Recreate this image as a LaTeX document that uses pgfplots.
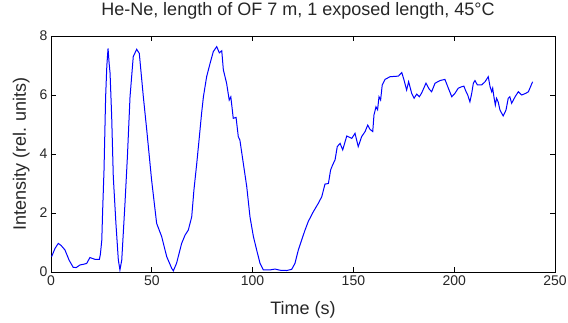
\documentclass[border=0pt]{standalone}
\usepackage{pgfplots}
\pgfplotsset{compat=1.18}
\usepackage{fontspec}
\setmainfont{Liberation Sans}
\begin{document}
\begin{tikzpicture}
\path[use as bounding box] (-51pt,-50pt) rectangle (517pt,272pt);
\begin{axis}[
  scale only axis, width=504pt, height=236pt,
  anchor=south west, at={(0pt,0pt)},
  xmin=0, xmax=250, ymin=0, ymax=8,
  xtick={0,50,...,250}, ytick={0,2,...,8},
  tick align=inside, major tick length=5pt,
  tick style={black, line width=0.8pt},
  axis line style={black, line width=0.8pt},
  /pgf/number format/assume math mode=true,
  ticklabel style={font=\fontsize{14}{16}\selectfont, text=black!85},
  label style={font=\fontsize{18}{20}\selectfont, text=black!85},
  title style={font=\fontsize{18}{20}\selectfont, text=black!85, at={(axis description cs:0.49,1.0606)}, anchor=base},
  title={He-Ne, length of OF 7 m, 1 exposed length, 45°C},
  xlabel={Time (s)}, ylabel={Intensity (rel. units)},
  xlabel style={at={(axis description cs:0.5,-0.182)}, anchor=base},
  ylabel style={at={(axis description cs:-0.0496,0.5)}, anchor=base},
]
\addplot[color={rgb,255:red,0;green,0;blue,255}, line width=1pt, mark=none] coordinates {
(0.3,0.52) (2,0.8) (3.6,0.97) (5,0.9) (6.9,0.75) (9,0.4) (11,0.16) (12.5,0.15)
(14.4,0.24) (16,0.26) (17.7,0.29) (19.3,0.49) (21.8,0.43) (24,0.43) (24.5,0.6)
(25.2,1.08) (25.6,2.04) (26.3,3.46) (27.1,5.94) (27.7,7.0) (28.3,7.58) (28.8,7.1)
(29.3,6.74) (30.1,5.27) (30.9,3.23) (32.2,1.65) (33.4,0.41) (34.2,0.07) (35.1,0.41)
(36.7,2.33) (37.9,3.91) (39.2,5.94) (40.8,7.3) (42.5,7.55) (43.8,7.41) (45.8,5.94)
(47.5,4.81) (49.9,3.12) (52.4,1.65) (54.9,1.2) (57.4,0.52) (59.9,0.12) (60.7,0.04)
(62.3,0.3) (64.8,0.97) (66.5,1.25) (68.1,1.42) (69.8,1.87) (70.9,2.78) (72.3,3.68)
(73.6,4.59) (74.7,5.38) (75.6,5.94) (77.2,6.62) (78.9,7.07) (80.5,7.47) (82.2,7.64)
(83.5,7.43) (84.7,7.5) (85.5,6.85) (87.1,6.4) (88.4,5.83) (89.2,5.94) (90.4,5.21)
(91.8,5.24) (92.9,4.59) (93.7,4.47) (95.4,3.68) (97.1,2.89) (98.7,1.87) (100.4,1.2)
(102,0.75) (103.7,0.29) (105.3,0.07) (108.6,0.07) (111.1,0.1) (113.6,0.06) (116.9,0.05)
(119.4,0.09) (121,0.29) (122.7,0.75) (124.4,1.1) (126,1.42) (127.6,1.71) (130.1,2.04)
(132.6,2.33) (134.3,2.55) (135.9,2.98) (137.6,3.0) (138.7,3.46) (139.7,3.63) (140.9,3.8)
(142,4.25) (143.4,4.36) (144.7,4.14) (146.7,4.61) (149.2,4.53) (150.8,4.7) (152.4,4.25)
(154.1,4.59) (155.8,4.76) (157.1,4.98) (158.2,4.84) (159.6,4.76) (160.2,5.32) (161.2,5.6)
(162,5.5) (162.7,5.94) (163.5,5.83) (164.3,6.34) (165.7,6.53) (168.2,6.62) (172.3,6.64)
(174,6.76) (175.1,6.51) (176.4,6.17) (177.4,6.45) (178.9,6.06) (180.1,5.89) (181.4,6.03)
(182.7,5.94) (183.8,6.06) (186,6.4) (187.6,6.2) (188.8,6.11) (190.5,6.4) (193,6.49)
(195.4,6.53) (197.1,6.23) (198.8,5.94) (200.4,6.06) (202,6.23) (203.7,6.28) (204.8,6.3)
(205.9,6.11) (206.7,6.0) (207.8,5.77) (208.7,6.06) (209.5,6.4) (210.3,6.49) (211.5,6.34)
(213.6,6.34) (215.3,6.45) (216.9,6.62) (217.8,6.28) (218.6,6.11) (219.1,6.23) (219.7,5.94)
(220.4,5.66) (221,5.89) (221.8,5.77) (222.7,5.49) (224.3,5.29) (225.7,5.49) (226.8,5.89)
(227.6,5.94) (228.5,5.72) (230.2,5.94) (231.8,6.11) (233.5,6.0) (235.6,6.06) (236.8,6.11)
(238.9,6.45)
};
\end{axis}
\end{tikzpicture}
\end{document}
